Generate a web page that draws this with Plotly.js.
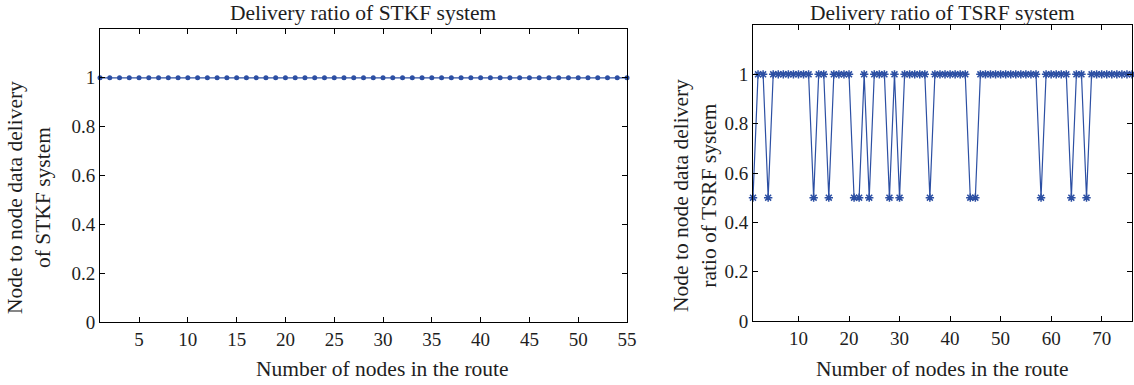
<!DOCTYPE html>
<html>
<head>
<meta charset="utf-8">
<script src="https://cdn.plot.ly/plotly-3.0.1.min.js"></script>
<style>html,body{margin:0;padding:0;background:#fff;}#chart{width:1134px;height:385px;}</style>
</head>
<body>
<div id="chart"></div>
<script>
// STKF system: nodes 1..55, delivery ratio
const stkfNodes = [];
for (let i = 1; i <= 55; i++) stkfNodes.push(i);
const stkfRatio = [1,1,1,1,1,1,1,1,1,1,1,1,1,1,1,1,1,1,1,1,1,1,1,1,1,1,1,1,1,1,1,1,1,1,1,1,1,1,1,1,1,1,1,1,1,1,1,1,1,1,1,1,1,1,1];

// TSRF system: nodes 1..76, delivery ratio
const tsrfNodes = [];
for (let i = 1; i <= 76; i++) tsrfNodes.push(i);
const tsrfRatio = [
  0.5,1,1,0.5,1,1,1,1,1,1,
  1,1,0.5,1,1,0.5,1,1,1,1,
  0.5,0.5,1,0.5,1,1,1,0.5,1,0.5,
  1,1,1,1,1,0.5,1,1,1,1,
  1,1,1,0.5,0.5,1,1,1,1,1,
  1,1,1,1,1,1,1,0.5,1,1,
  1,1,1,0.5,1,1,0.5,1,1,1,
  1,1,1,1,1,1
];

const leftTicks = [5,10,15,20,25,30,35,40,45,50,55];
const rightTicks = [10,20,30,40,50,60,70];
const yTicks = [0,0.2,0.4,0.6,0.8,1];
const yTickText = ['0','0.2','0.4','0.6','0.8','1'];

const blue = '#2c4fa3';
const serif = 'Liberation Serif, Times New Roman, serif';
const txt = '#1e1e1e';

const traces = [
  {x: stkfNodes, y: stkfRatio, type: 'scatter', mode: 'lines+markers', cliponaxis: false,
   line: {color: blue, width: 1.2}, marker: {color: blue, size: 5, symbol: 'circle'},
   xaxis: 'x', yaxis: 'y', showlegend: false},
  {x: tsrfNodes, y: tsrfRatio, type: 'scatter', mode: 'lines+markers', cliponaxis: false,
   line: {color: blue, width: 1.2}, marker: {color: blue, size: 7, symbol: 'asterisk-open', line: {color: blue, width: 1.5}},
   xaxis: 'x2', yaxis: 'y2', showlegend: false}
];

const axisCommon = {
  showline: true, linecolor: '#000', linewidth: 1, mirror: 'ticks',
  ticks: 'inside', ticklen: 5, tickcolor: '#000', tickwidth: 1,
  showgrid: false, zeroline: false,
  tickfont: {family: serif, size: 19, color: txt}
};

const layout = {
  width: 1134, height: 385,
  margin: {l: 0, r: 0, t: 0, b: 0},
  paper_bgcolor: '#fff', plot_bgcolor: '#fff',
  font: {family: serif, color: txt},
  xaxis: Object.assign({}, axisCommon, {domain: [100/1134, 627/1134], range: [1, 55], tickvals: leftTicks, anchor: 'y'}),
  yaxis: Object.assign({}, axisCommon, {domain: [1-322/385, 1-29/385], range: [0, 1.2], tickvals: yTicks, ticktext: yTickText, anchor: 'x'}),
  xaxis2: Object.assign({}, axisCommon, {domain: [753/1134, 1132/1134], range: [1, 76], tickvals: rightTicks, anchor: 'y2'}),
  yaxis2: Object.assign({}, axisCommon, {domain: [1-321/385, 1-25/385], range: [0, 1.2], tickvals: yTicks, ticktext: yTickText, anchor: 'x2'}),
  annotations: [
    {text: 'Delivery ratio of STKF system', xref: 'paper', yref: 'paper', x: 363/1134, y: 1-13/385, showarrow: false, xanchor: 'center', yanchor: 'middle', font: {family: serif, size: 21.5, color: txt}},
    {text: 'Delivery ratio of TSRF system', xref: 'paper', yref: 'paper', x: 942/1134, y: 1-13/385, showarrow: false, xanchor: 'center', yanchor: 'middle', font: {family: serif, size: 21.5, color: txt}},
    {text: 'Number of nodes in the route', xref: 'paper', yref: 'paper', x: 382/1134, y: 1-369/385, showarrow: false, xanchor: 'center', yanchor: 'middle', font: {family: serif, size: 21.5, color: txt}},
    {text: 'Number of nodes in the route', xref: 'paper', yref: 'paper', x: 942/1134, y: 1-369/385, showarrow: false, xanchor: 'center', yanchor: 'middle', font: {family: serif, size: 21.5, color: txt}},
    {text: 'Node to node data delivery<br>of STKF system', xref: 'paper', yref: 'paper', x: 29/1134, y: 1-198/385, showarrow: false, textangle: -90, xanchor: 'center', yanchor: 'middle', font: {family: serif, size: 21.5, color: txt}},
    {text: 'Node to node data delivery<br>ratio of TSRF system', xref: 'paper', yref: 'paper', x: 695/1134, y: 1-196/385, showarrow: false, textangle: -90, xanchor: 'center', yanchor: 'middle', font: {family: serif, size: 21.5, color: txt}}
  ]
};

Plotly.newPlot('chart', traces, layout, {displayModeBar: false, staticPlot: true});
</script>
</body>
</html>
